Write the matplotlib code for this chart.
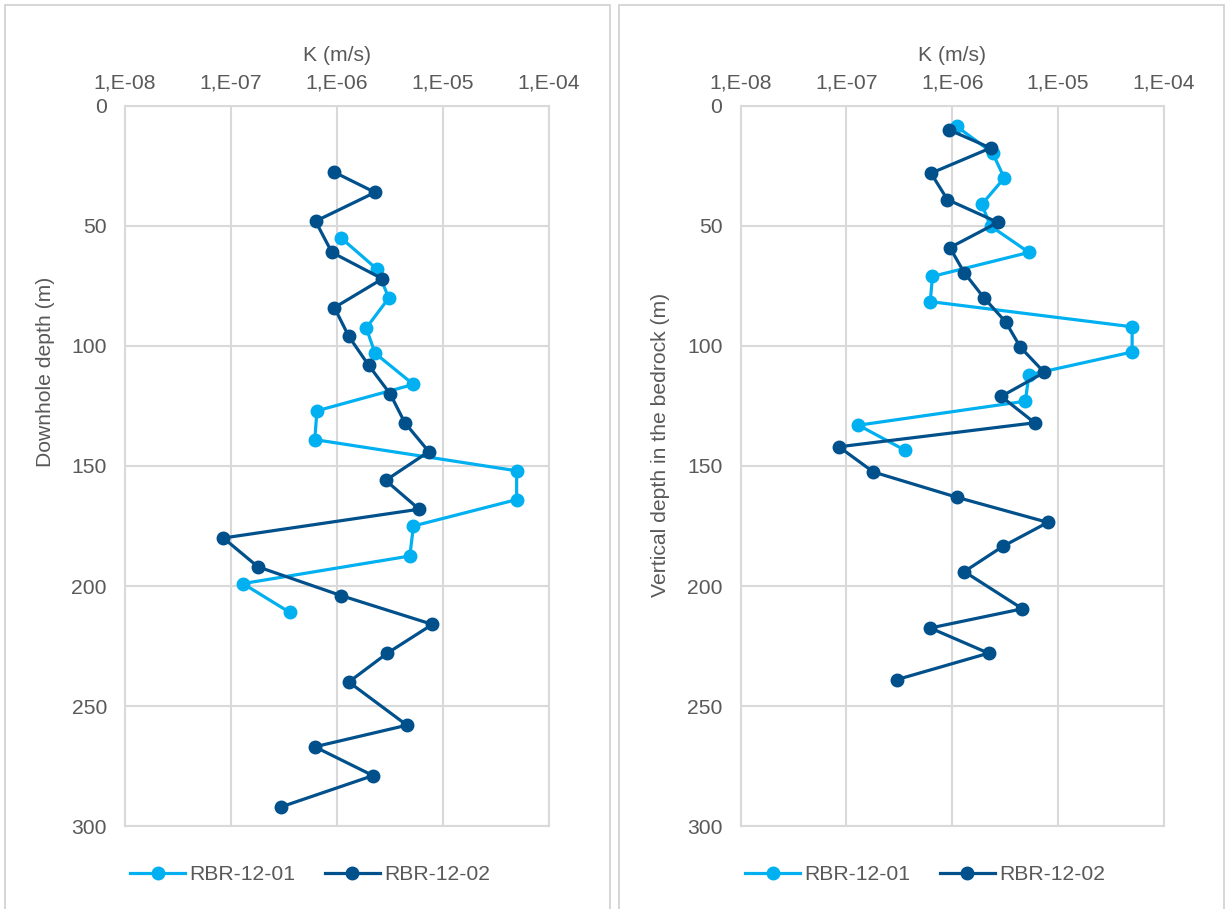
import matplotlib

matplotlib.use("Agg")
import matplotlib.pyplot as plt
from matplotlib.patches import Rectangle
from matplotlib.ticker import FixedLocator, FuncFormatter, NullLocator
import numpy as np

# Hydraulic conductivity K (m/s)
k_rbr01 = [1.1e-6, 2.4e-6, 3.1e-6, 1.9e-6, 2.3e-6, 5.3e-6, 6.5e-7,
           6.2e-7, 5.0e-5, 5.0e-5, 5.3e-6, 4.9e-6, 1.3e-7, 3.6e-7]
k_rbr02 = [9.4e-7, 2.3e-6, 6.3e-7, 9.0e-7, 2.7e-6, 9.5e-7, 1.3e-6, 2.0e-6,
           3.2e-6, 4.4e-6, 7.4e-6, 2.9e-6, 6.0e-6, 8.5e-8, 1.8e-7, 1.1e-6,
           8.0e-6, 3.0e-6, 1.3e-6, 4.6e-6, 6.2e-7, 2.2e-6, 3.0e-7]

# Downhole depth (m)
downhole_rbr01 = [55, 68, 80, 92.5, 103, 116, 127, 139, 152, 164, 175, 187.5, 199, 211]
downhole_rbr02 = [27.5, 36, 48, 61, 72, 84, 96, 108, 120, 132, 144, 156, 168,
                  180, 192, 204, 216, 228, 240, 258, 267, 279, 292]

# Vertical depth in the bedrock (m)
vertical_rbr01 = [8.5, 19.5, 30, 41, 50, 61, 71, 81.5, 92, 102.5, 112, 123, 133, 143.5]
vertical_rbr02 = [10, 17.5, 28, 39, 48.5, 59, 69.5, 80, 90, 100.5, 111, 121, 132,
                  142, 152.5, 163, 173.5, 183.5, 194, 209.5, 217.5, 228, 239]

x_ticks = [1e-8, 1e-7, 1e-6, 1e-5, 1e-4]
y_ticks = [0, 50, 100, 150, 200, 250, 300]

LIGHT = "#00B0F0"
DARK = "#00508C"
TEXT = "#595959"
GRID = "#D9D9D9"
FS = 15.2

plt.rcParams["font.family"] = ["Liberation Sans", "DejaVu Sans"]

fig = plt.figure(figsize=(12.25, 9.09), dpi=100)
W, H = 1225, 909

# chart area borders (Excel-style frames)
for x0, x1 in [(4.5, 610), (619, 1224)]:
    fig.patches.append(Rectangle((x0 / W, -0.05), (x1 - x0) / W, 1.05 - 4.5 / H,
                                 transform=fig.transFigure, fill=False,
                                 edgecolor="#D0D0D0", linewidth=1.2))

# (axes left px, depths 01, depths 02, y title, title centre y px, legend centre x px)
panels = [
    (125, downhole_rbr01, downhole_rbr02, "Downhole depth (m)", 372, 310),
    (740.5, vertical_rbr01, vertical_rbr02, "Vertical depth in the bedrock (m)", 445, 925),
]


def k_fmt(v, _):
    return f"1,E{int(round(np.log10(v))):03d}"


for left_px, d01, d02, ylabel, label_y, legend_x in panels:
    ax = fig.add_axes([left_px / W, 1 - 826 / H, 423.5 / W, 720 / H])
    ax.set_xscale("log")
    ax.set_xlim(1e-8, 1e-4)
    ax.set_ylim(300, 0)
    ax.xaxis.set_major_locator(FixedLocator(x_ticks))
    ax.xaxis.set_minor_locator(NullLocator())
    ax.xaxis.set_major_formatter(FuncFormatter(k_fmt))
    ax.set_yticks(y_ticks)
    ax.xaxis.tick_top()
    ax.xaxis.set_label_position("top")
    ax.tick_params(axis="both", length=0, labelsize=FS, labelcolor=TEXT)
    ax.tick_params(axis="x", pad=10)
    ax.tick_params(axis="y", pad=13)
    ax.grid(True, color=GRID, linewidth=1.5)
    ax.set_axisbelow(True)
    for sp in ax.spines.values():
        sp.set_color(GRID)
        sp.set_linewidth(1.5)

    ax.plot(k_rbr01, d01, color=LIGHT, lw=2.3, marker="o", ms=9,
            label="RBR-12-01", clip_on=False, zorder=3)
    ax.plot(k_rbr02, d02, color=DARK, lw=2.3, marker="o", ms=9,
            label="RBR-12-02", clip_on=False, zorder=4)

    ax.set_xlabel("K (m/s)", fontsize=FS, color=TEXT, labelpad=9)
    ax.set_ylabel(ylabel, fontsize=FS, color=TEXT)
    ax.yaxis.set_label_coords(-70 / 423.5, (826 - label_y) / 720)

    ax.legend(loc="center", bbox_to_anchor=(legend_x / W, 1 - 875 / H),
              bbox_transform=fig.transFigure, ncol=2, frameon=False,
              fontsize=FS, labelcolor=TEXT, handlelength=2.6,
              handletextpad=0.2, columnspacing=1.4)

fig.savefig("out.png", dpi=100)
